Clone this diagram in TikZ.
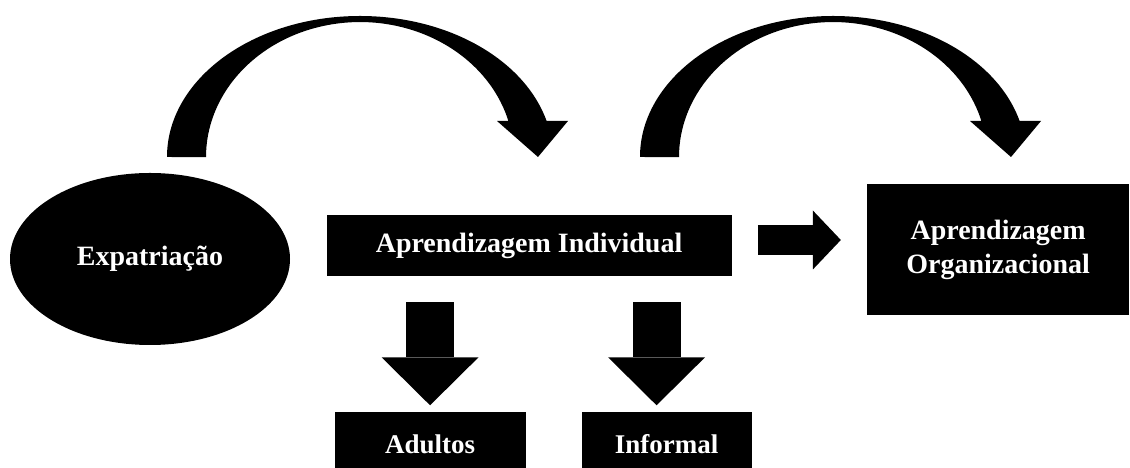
\documentclass[tikz,border=0pt]{standalone}
\usepackage{fontspec}
\setmainfont{Liberation Serif}
\usetikzlibrary{positioning, arrows.meta, shapes.geometric}

\begin{document}
\begin{tikzpicture}[
	        bloco/.style={rectangle, fill=black, text=white, inner sep=0pt, align=center, font=\bfseries\fontsize{19.9}{24.2}\selectfont},
	        elipse/.style={ellipse, fill=black, text=white, inner sep=0pt, minimum width=7cm, minimum height=4.3cm, font=\bfseries\fontsize{19.9}{24.2}\selectfont},
	        folha/.style={bloco, minimum height=1.425cm, text height=0.675cm, text depth=0pt, font=\bfseries\fontsize{19.2}{23}\selectfont},
	        setabaixo/.style={line width=1.2cm, -{Triangle[length=1.2cm, width=2.425cm, line width=0pt]}},
	        setadireita/.style={line width=0.75cm, -{Triangle[length=0.7cm, width=1.475cm, line width=0pt]}},
	        pics/arcoseta/.style={code={
	            \fill (0,0) arc[start angle=180, end angle=14.8, x radius=4.825cm, y radius=3.525cm]
	                -- (10.025,0.9) -- (9.275,0) -- (8.25,0.9) -- (8.535,0.9)
	                arc[start angle=15.5, end angle=180, x radius=3.85cm, y radius=3.375cm] -- cycle;
	        }},
	        node distance=1cm]
	        
	        \useasboundingbox (0,0) rectangle (28.25,11.7);
	        
	        % Nós do diagrama
	        \node (expat) [elipse] at (3.75,5.225) {Expatriação};
	        \node (indiv) [bloco, minimum width=10.125cm, minimum height=1.525cm, right=0.9cm of expat, yshift=0.3375cm] {Aprendizagem Individual};
	        \node (org) [bloco, minimum width=6.55cm, minimum height=3.275cm, right=3.375cm of indiv, yshift=-0.1cm] {Aprendizagem\\Organizacional};
	        
	        % Nós de baixo
	        \node (adultos) [folha, minimum width=4.775cm, below=3.375cm of indiv, xshift=-2.475cm] {Adultos};
	        \node (informal) [folha, minimum width=4.25cm, below=3.375cm of indiv, xshift=3.4375cm] {Informal};
	        
	        % Setas curvas
	        \pic (arco1) at (4.175,7.775) {arcoseta};
	        \pic (arco2) at (16,7.775) {arcoseta};
	        
	        % Conexões
	        \coordinate (dir) at ([yshift=0.1375cm]indiv.east);
	        \coordinate (inf) at ([xshift=-0.25cm]informal.north);
	        \draw[setadireita, shorten <=0.65cm, shorten >=0.65cm] (dir) -- (dir -| org.west);
	        \draw[setabaixo, shorten <=0.65cm, shorten >=0.15cm] (adultos.north |- indiv.south) -- (adultos.north);
	        \draw[setabaixo, shorten <=0.65cm, shorten >=0.15cm] (inf |- indiv.south) -- (inf);
	        
	    \end{tikzpicture}
\end{document}
